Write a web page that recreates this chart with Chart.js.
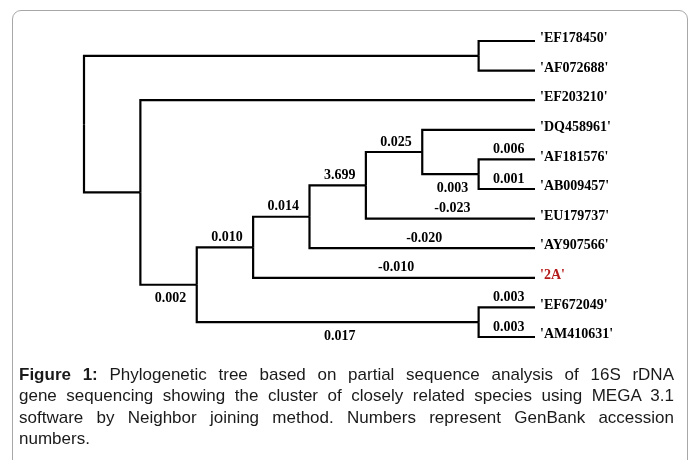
<!DOCTYPE html>
<html>
<head>
<meta charset="utf-8">
<script src="https://cdn.jsdelivr.net/npm/chart.js@4.4.1/dist/chart.umd.min.js"></script>
<style>
  html, body { margin: 0; padding: 0; background: #ffffff; }
  #wrap { position: relative; width: 695px; height: 460px; overflow: hidden; }
  #frame { position: absolute; left: 12px; top: 10px; width: 676px; height: 470px;
           border: 1px solid #a8a8a8; border-radius: 9px; box-sizing: border-box; }
  #c { position: absolute; left: 0; top: 0; }
  #caption { position: absolute; left: 19px; top: 364px; width: 655px;
             font-family: "Liberation Sans", Arial, sans-serif; font-size: 17px;
             line-height: 21.3px; color: #1a1a1a; }
  #caption .ln { text-align: justify; text-align-last: justify; white-space: nowrap; }
  #caption .ln.last { text-align-last: left; }
</style>
</head>
<body>
<div id="wrap">
  <div id="frame"></div>
  <canvas id="c" width="695" height="460"></canvas>
  <div id="caption">
    <div class="ln"><b>Figure 1:</b> Phylogenetic tree based on partial sequence analysis of 16S rDNA</div>
    <div class="ln">gene sequencing showing the cluster of closely related species using MEGA 3.1</div>
    <div class="ln">software by Neighbor joining method. Numbers represent GenBank accession</div>
    <div class="ln last">numbers.</div>
  </div>
</div>
<script>
// ---- Tree data (topology-only cladogram, as drawn by MEGA) ----
const leafNames  = ["'EF178450'", "'AF072688'", "'EF203210'", "'DQ458961'", "'AF181576'", "'AB009457'",
                    "'EU179737'", "'AY907566'", "'2A'", "'EF672049'", "'AM410631'"];
const leafParent = ['A', 'A', 'B', 'G', 'H', 'H', 'F', 'E', 'D', 'I', 'I'];
const leafBranchLabel = ['', '', '', '', '0.006', '0.001', '-0.023', '-0.020', '-0.010', '0.003', '0.003'];
const leafDepth = 8;
const highlightLeaf = "'2A'";

const nodeIds    = ['R', 'A', 'B', 'C', 'D', 'E', 'F', 'G', 'H', 'I'];
const nodeDepth  = [0, 7, 1, 2, 3, 4, 5, 6, 7, 7];
const nodeParent = [null, 'R', 'R', 'B', 'C', 'D', 'E', 'F', 'G', 'C'];
const nodeBranchLabel = ['', '', '', '0.002', '0.010', '0.014', '3.699', '0.025', '0.003', '0.017'];
const nodeLabelBelow  = [false, false, false, true, false, false, false, false, true, true];

// ---- compute layout values (depth on x, leaf order on y) ----
const nodeY = {};
function yOf(id) {
  if (nodeY[id] !== undefined) return nodeY[id];
  const ys = [];
  leafParent.forEach((p, i) => { if (p === id) ys.push(i); });
  nodeParent.forEach((p, i) => { if (p === id) ys.push(yOf(nodeIds[i])); });
  nodeY[id] = (Math.min(...ys) + Math.max(...ys)) / 2;
  return nodeY[id];
}
nodeIds.forEach(yOf);
const depthOf = id => nodeDepth[nodeIds.indexOf(id)];

const branches = [];
leafNames.forEach((name, i) => {
  const p = leafParent[i];
  branches.push({ px: depthOf(p), py: nodeY[p], cx: leafDepth, cy: i, label: leafBranchLabel[i], below: false });
});
nodeIds.forEach((id, i) => {
  const p = nodeParent[i];
  if (!p) return;
  branches.push({ px: depthOf(p), py: nodeY[p], cx: nodeDepth[i], cy: nodeY[id], label: nodeBranchLabel[i], below: nodeLabelBelow[i] });
});

const datasets = branches.map(b => ({
  data: [{ x: b.px, y: b.py }, { x: b.px, y: b.cy }, { x: b.cx, y: b.cy }],
  showLine: true, borderColor: '#000000', borderWidth: 2.2, pointRadius: 0,
  tension: 0, fill: false, clip: false, borderJoinStyle: 'miter', borderCapStyle: 'butt'
}));

const labelPlugin = {
  id: 'treeLabels',
  afterDatasetsDraw(chart) {
    const ctx = chart.ctx, xs = chart.scales.x, ys = chart.scales.y;
    ctx.save();
    ctx.font = 'bold 14px "Liberation Serif", "Times New Roman", serif';
    ctx.textBaseline = 'middle';
    // leaf names
    ctx.textAlign = 'left';
    leafNames.forEach((name, i) => {
      ctx.fillStyle = name === highlightLeaf ? '#b51a1a' : '#000000';
      ctx.fillText(name, xs.getPixelForValue(leafDepth) + 5, ys.getPixelForValue(i) - 2.5);
    });
    // branch values
    ctx.textAlign = 'center';
    ctx.fillStyle = '#000000';
    branches.forEach(b => {
      if (!b.label) return;
      const x = (xs.getPixelForValue(b.px) + xs.getPixelForValue(b.cx)) / 2 + 2;
      const y = ys.getPixelForValue(b.cy) + (b.below ? 14 : -10);
      ctx.fillText(b.label, x, y);
    });
    ctx.restore();
  }
};

new Chart(document.getElementById('c'), {
  type: 'scatter',
  data: { datasets },
  options: {
    responsive: false, animation: false, devicePixelRatio: 1,
    layout: { padding: { left: 84, right: 160, top: 41, bottom: 123 } },
    plugins: { legend: { display: false }, tooltip: { enabled: false } },
    scales: {
      x: { type: 'linear', min: 0, max: leafDepth, display: false },
      y: { type: 'linear', min: 0, max: leafNames.length - 1, reverse: true, display: false }
    }
  },
  plugins: [labelPlugin]
});
</script>
</body>
</html>
